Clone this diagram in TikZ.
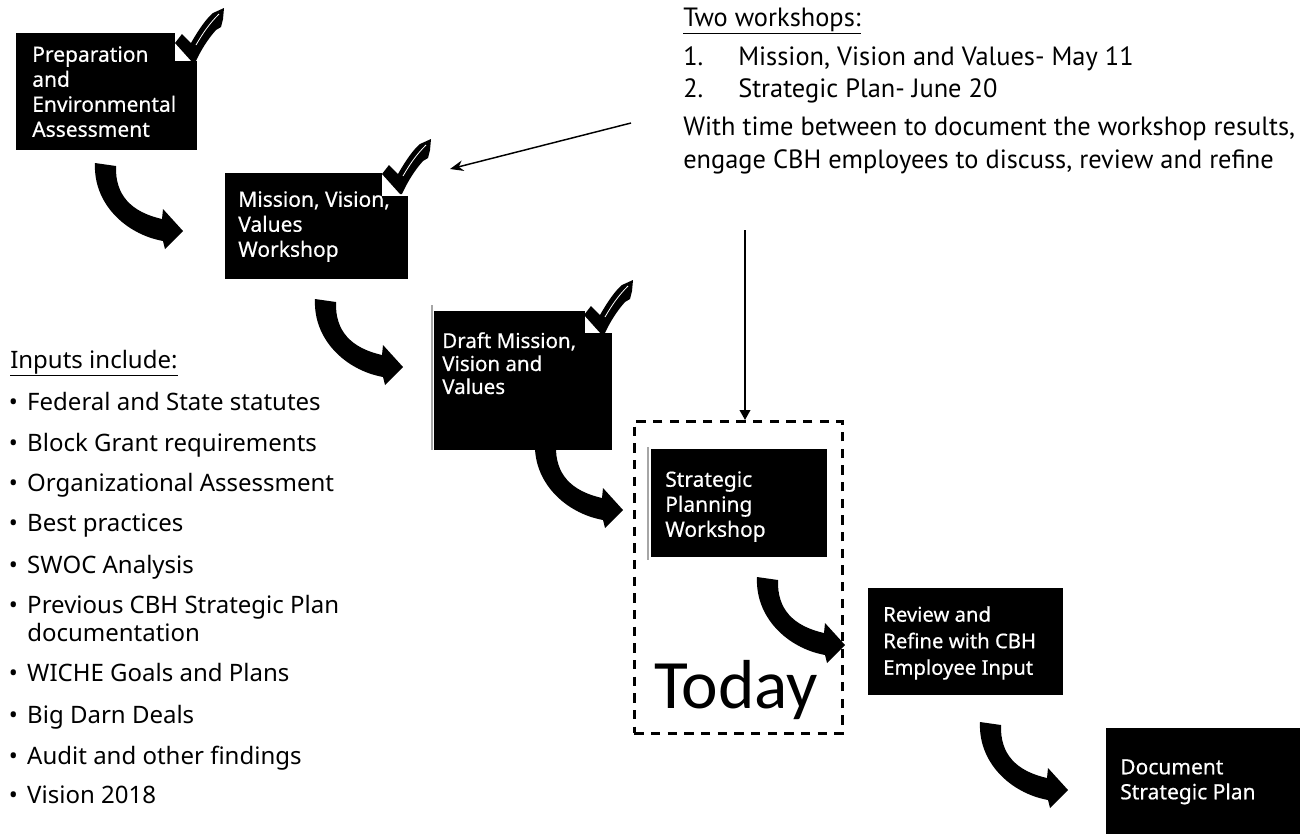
\documentclass[tikz,border=0pt]{standalone}
\usepackage{fontspec}
\setmainfont{Noto Sans}
\newfontfamily\ptsans{PT Sans}
\newfontfamily\carl{Carlito}
\newfontfamily\boxfont[FakeBold=0.5]{Noto Sans}
\usetikzlibrary{arrows.meta}
\newcommand\bulmark{\llap{\textbullet\hskip 7pt}}
\begin{document}
\begin{tikzpicture}[x=0.75pt,y=-0.75pt,
  blackbox/.style={fill=black, draw=none, inner sep=0pt, anchor=north west},
  boxlabel/.style={text=white, align=left, inner sep=0pt, anchor=north west, font=\boxfont\fontsize{15.75}{18.75}\selectfont},
  listitem/.style={anchor=base west, inner sep=0pt, font=\fontsize{18}{21}\selectfont},
  note/.style={anchor=base west, inner sep=0pt, font=\ptsans\fontsize{19.8}{22}\selectfont},
  thinarrow/.style={line width=1.1pt, -{Triangle[length=7.5pt,width=8pt]}},
  diagarrow/.style={line width=1.1pt, -{Stealth[length=10pt,width=8pt]}},
  dashbox/.style={draw, line width=2pt, dash pattern=on 7pt off 5.5pt, inner sep=0pt, anchor=north west},
  notch/.style={fill=white},
  bendarrow/.pic={\fill[black] (0,0) -- (21,3) .. controls (20,32) and (36,49) .. (67,56) -- (68,46) -- (88,68) -- (70,86) -- (68,78) .. controls (30,71) and (-2,40) .. (0,0) -- cycle;},
  checkmk/.pic={\fill[black] (0,0) -- (-18,-20) -- (-11,-29) -- (-2,-20) .. controls (6,-34) and (13,-44) .. (20,-50) -- (31,-55) -- (30,-44) -- (28,-36) -- (23,-33) .. controls (14,-23) and (7,-11) .. (2,0) -- cycle;
     \draw[white, line width=0.6pt] (3,-18) .. controls (10,-30) and (16,-39) .. (26,-49);}
]
\useasboundingbox (0,0) rectangle (1307,833);

% boxes
\node[blackbox, minimum width=135.75pt, minimum height=87.75pt] (b1) at (16,33) {};
\node[blackbox, minimum width=137.25pt, minimum height=79.5pt] (b2) at (225,173) {};
\node[blackbox, minimum width=133.5pt, minimum height=104.25pt] (b3) at (434,311) {};
\node[blackbox, minimum width=132pt, minimum height=81pt] (b4) at (651,449) {};
\node[blackbox, minimum width=146.25pt, minimum height=80.25pt] (b5) at (868,588) {};
\node[blackbox, minimum width=145.5pt, minimum height=84pt] (b6) at (1106,728) {};

\draw[gray!70, line width=0.8pt] (432,305) -- (432,450);
\draw[gray!70, line width=0.8pt] (648,447) -- (648,560);

% notches and check marks
\fill[notch] (175,31) rectangle (199,61);
\fill[notch] (382,171) rectangle (410,196);
\fill[notch] (585,309) rectangle (614,333);
\pic at (193,63) {checkmk};
\pic at (400,194) {checkmk};
\pic at (602,335) {checkmk};

% box labels
\node[boxlabel] (t1) at (32,46) {Preparation\\and\\Environmental\\Assessment};
\node[boxlabel] (t2) at (238,191) {Mission, Vision,\\Values\\Workshop};
\node[boxlabel, font=\boxfont\fontsize{15.4}{17.25}\selectfont] (t3) at (442,332) {Draft Mission,\\Vision and\\Values};
\node[boxlabel] (t4) at (665,471) {Strategic\\Planning\\Workshop};
\node[boxlabel, font=\boxfont\fontsize{15.2}{19.9}\selectfont] (t5) at (883,606) {Review and\\Refine with CBH\\Employee Input};
\node[boxlabel] (t6) at (1120,759) {Document\\Strategic Plan};

% curved block arrows
\pic at (95,163) {bendarrow};
\pic at (315,299) {bendarrow};
\pic at (535,442) {bendarrow};
\pic at (757,577) {bendarrow};
\pic at (980,722) {bendarrow};

% today box
\node[dashbox, minimum width=156pt, minimum height=234pt] (today) at (633,420) {};
\node[anchor=base west, inner sep=0pt, font=\carl\fontsize{52}{60}\selectfont] (todaytxt) at (654,708) {Today};

% inputs list
\node[listitem] (inh) at (10,368) {\underline{Inputs include:}};
\node[listitem] (i1) at (27,410) {\bulmark Federal and State statutes};
\node[listitem] (i2) at (27,451) {\bulmark Block Grant requirements};
\node[listitem] (i3) at (27,491) {\bulmark Organizational Assessment};
\node[listitem] (i4) at (27,531) {\bulmark Best practices};
\node[listitem] (i5) at (27,573) {\bulmark SWOC Analysis};
\node[listitem] (i6) at (27,613) {\bulmark Previous CBH Strategic Plan};
\node[listitem] (i6b) at (27,641) {documentation};
\node[listitem] (i7) at (27,681) {\bulmark WICHE Goals and Plans};
\node[listitem] (i8) at (27,723) {\bulmark Big Darn Deals};
\node[listitem] (i9) at (27,764) {\bulmark Audit and other findings};
\node[listitem] (i10) at (27,803) {\bulmark Vision 2018};

% workshops note
\node[note] (two) at (683,26) {\underline{Two workshops:}};
\node[note] (n1) at (683,65) {1.};
\node[note] (w1) at (738,65) {Mission, Vision and Values- May 11};
\node[note] (n2) at (683,97) {2.};
\node[note] (w2) at (738,97) {Strategic Plan- June 20};
\node[note] (w3) at (683,135) {With time between to document the workshop results,};
\node[note] (w4) at (683,168) {engage CBH employees to discuss, review and refine};

% thin connectors
\coordinate (d1) at (631,123);
\coordinate (d2) at (450,169);
\draw[diagarrow] (d1) -- (d2);
\coordinate (v1) at (745,230);
\draw[thinarrow] (v1) -- (v1 |- today.north);
\end{tikzpicture}
\end{document}
